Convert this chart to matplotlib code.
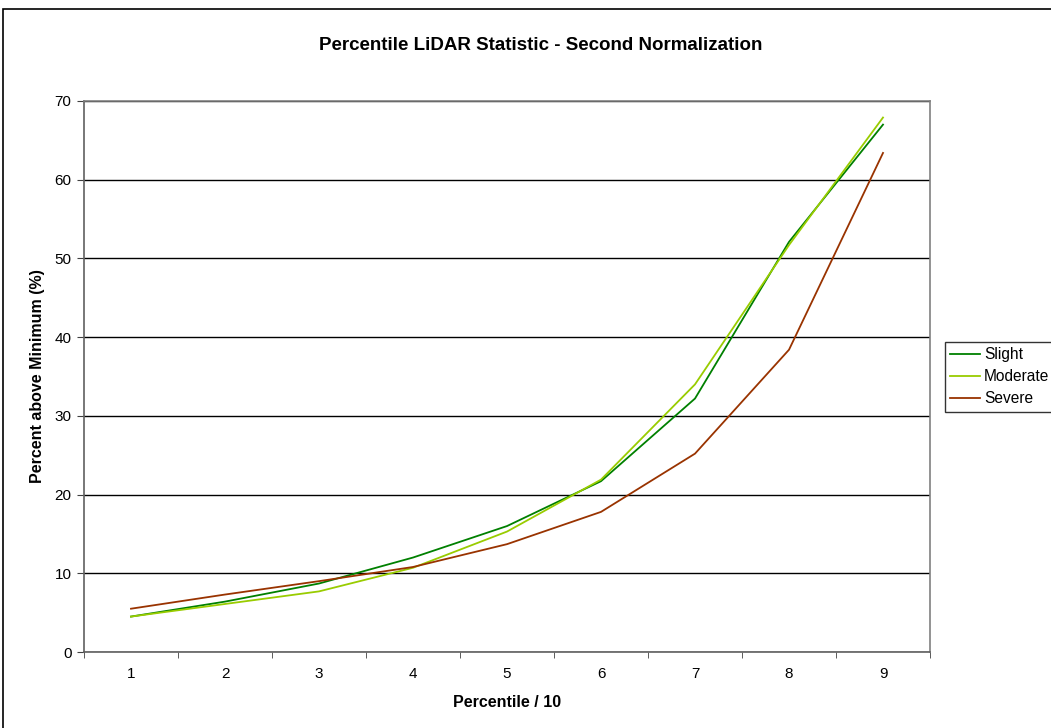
"""Percentile LiDAR Statistic - Second Normalization (Excel-style line chart)."""

import matplotlib
matplotlib.use("Agg")
import matplotlib.pyplot as plt
from matplotlib.patches import Rectangle
import numpy as np

plt.rcParams['font.family'] = ['Liberation Sans', 'DejaVu Sans']

# Data
percentiles = [1, 2, 3, 4, 5, 6, 7, 8, 9]
slight = [4.5, 6.4, 8.7, 12.0, 16.0, 21.7, 32.2, 52.1, 67.0]
moderate = [4.5, 6.1, 7.7, 10.7, 15.3, 21.9, 34.0, 51.7, 67.9]
severe = [5.5, 7.3, 9.0, 10.8, 13.7, 17.8, 25.2, 38.4, 63.4]

series = [("Slight", slight, "#008000"),
          ("Moderate", moderate, "#99CC00"),
          ("Severe", severe, "#993300")]

fig = plt.figure(figsize=(10.51, 7.28), dpi=100)
fig.patch.set_facecolor('white')

# outer chart border (extends past right/bottom edge like the screenshot)
fig.patches.append(Rectangle((3 / 1051, -0.1), 1.2, 1 - 9 / 728 + 0.1,
                             transform=fig.transFigure, fill=False,
                             edgecolor='black', linewidth=1.2))

ax = fig.add_axes([84 / 1051, 76 / 728, 846 / 1051, 551 / 728])

x = np.arange(len(percentiles))
for name, vals, color in series:
    ax.plot(x, vals, color=color, linewidth=1.3, label=name)

ax.set_xlim(-0.5, len(percentiles) - 0.5)
ax.set_ylim(0, 70)
ax.set_yticks(np.arange(0, 71, 10))
ax.set_xticks(x)
ax.set_xticklabels([str(p) for p in percentiles], fontsize=11)
ax.set_xticks(np.arange(-0.5, len(percentiles)), minor=True)
ax.tick_params(axis='x', which='major', length=0, pad=11)
ax.tick_params(axis='x', which='minor', length=4, direction='out', color='#404040')
ax.tick_params(axis='y', length=5, direction='out', labelsize=11, pad=4, color='#404040')

ax.yaxis.grid(True, color='black', linewidth=1)
ax.set_axisbelow(True)
for side in ['top', 'right']:
    ax.spines[side].set_color('#808080')
for side in ['left', 'bottom']:
    ax.spines[side].set_color('#606060')
for s in ax.spines.values():
    s.set_linewidth(1.2)

ax.set_xlabel("Percentile / 10", fontsize=11.5, fontweight='bold', labelpad=10)
ax.set_ylabel("Percent above Minimum (%)", fontsize=11.5, fontweight='bold', labelpad=7)

fig.text(541 / 1051, 1 - 46 / 728, "Percentile LiDAR Statistic - Second Normalization",
         ha='center', va='center', fontsize=13.5, fontweight='bold')

leg = fig.legend(loc='upper left', bbox_to_anchor=(945 / 1051, 1 - 342 / 728),
                 frameon=True, fancybox=False, fontsize=11.2, handlelength=1.9,
                 handletextpad=0.25, labelspacing=0.45, borderpad=0.35,
                 borderaxespad=0)
leg.get_frame().set_edgecolor('black')
leg.get_frame().set_linewidth(1)

fig.savefig("out.png", dpi=100, facecolor='white')
